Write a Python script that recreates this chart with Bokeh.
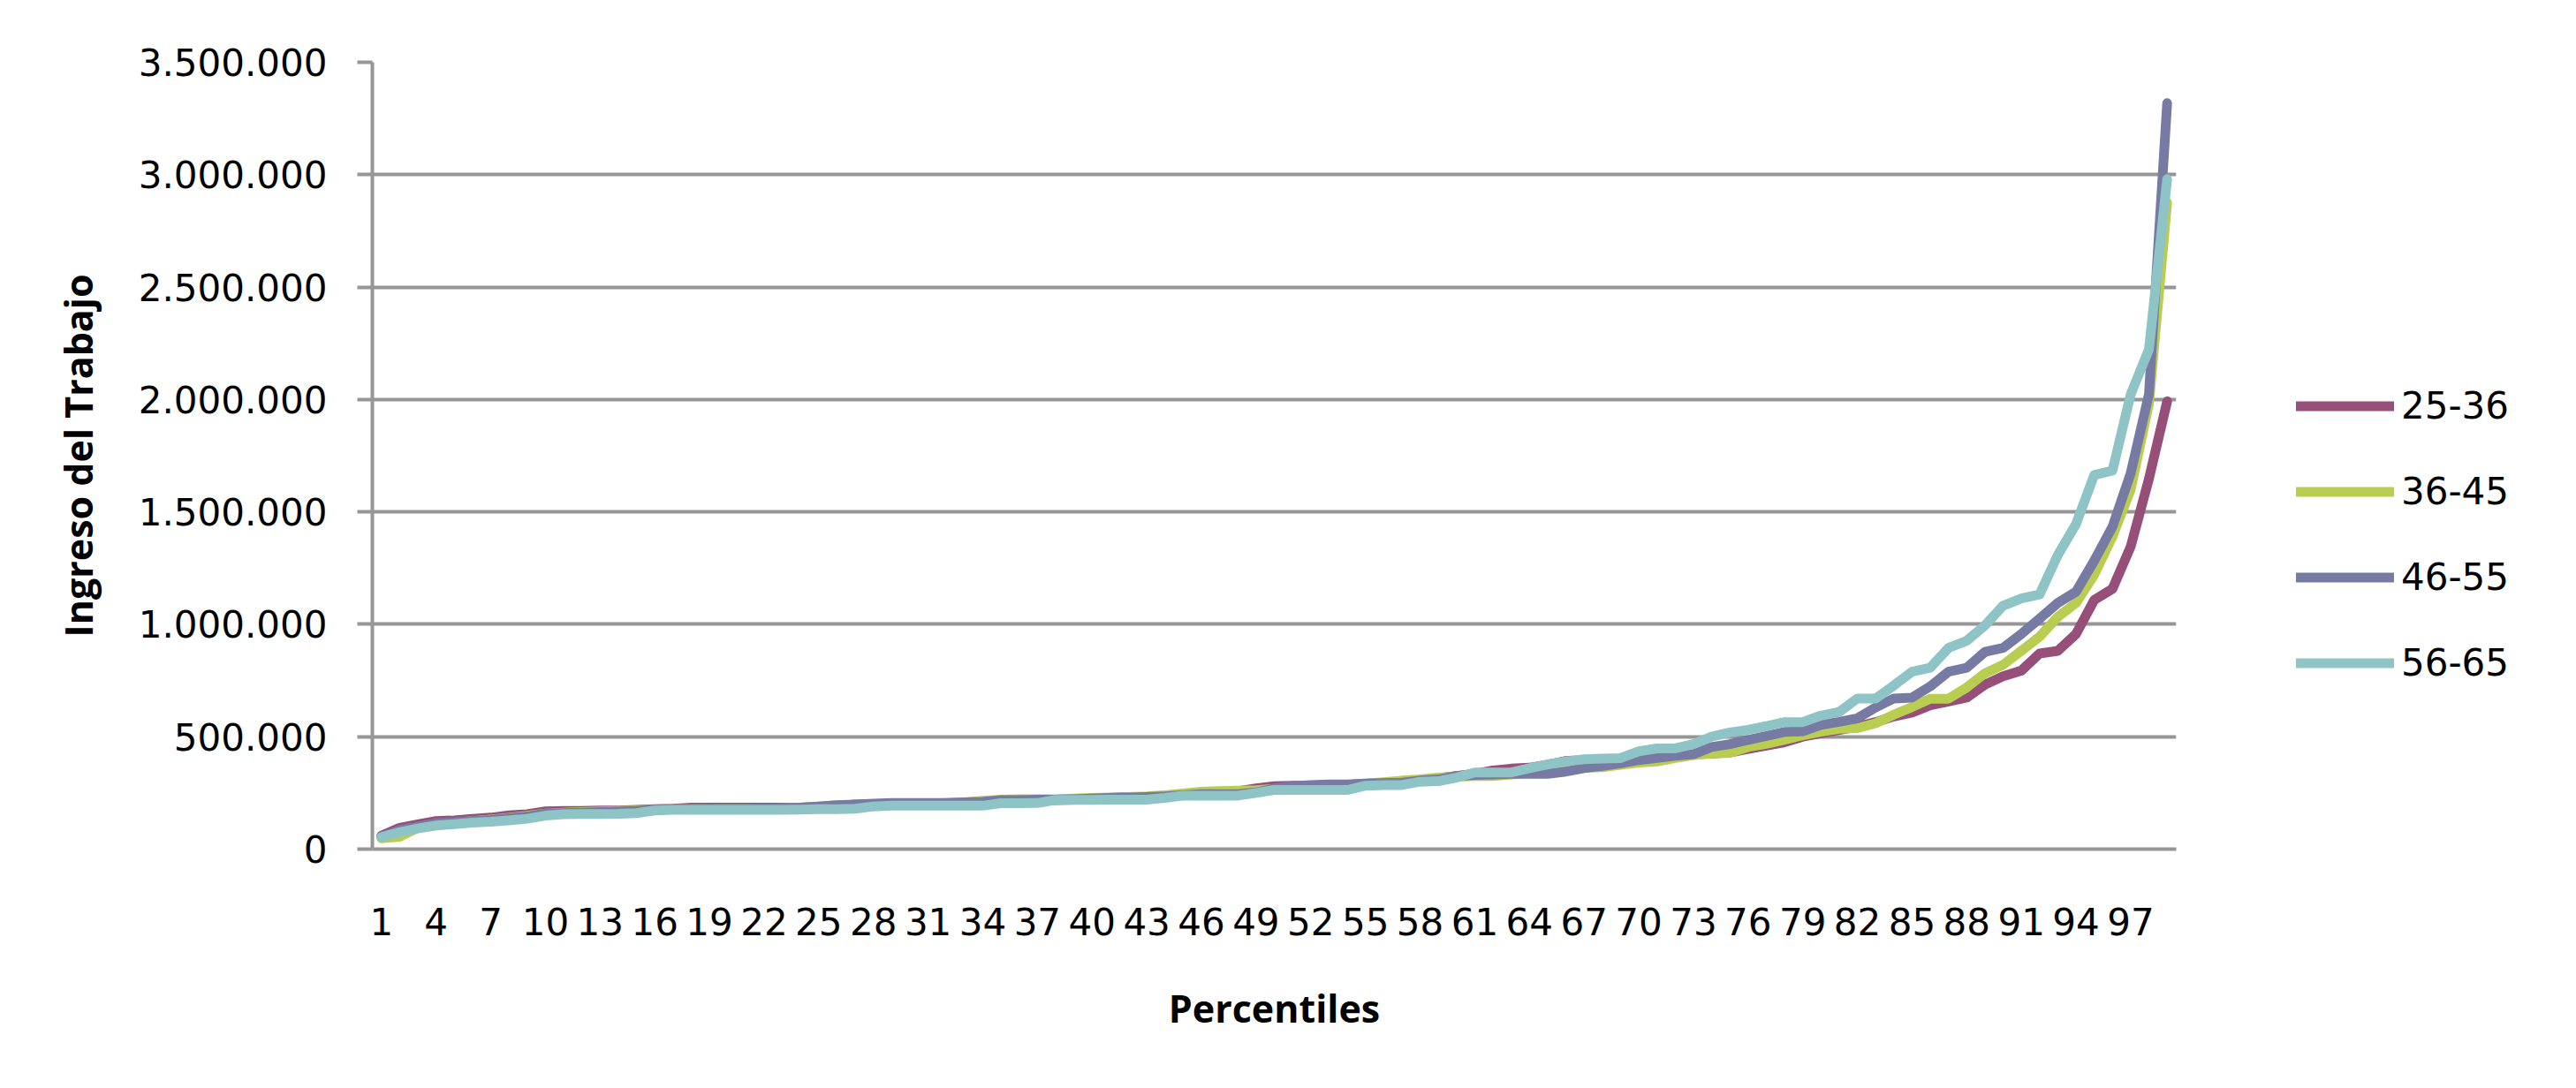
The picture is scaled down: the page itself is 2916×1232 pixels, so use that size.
from bokeh.plotting import figure
from bokeh.models import Range1d, FixedTicker, Legend, LegendItem
from bokeh.embed import file_html
from bokeh.resources import INLINE

# ---- data ----
percentiles = list(range(1, 100))

s_25_36 = [60000, 95000, 110000, 125000, 128000, 135000, 140000, 150000, 155000, 168000,
           170000, 170000, 172000, 172000, 175000, 178000, 180000, 185000, 185000, 185000,
           185000, 185000, 185000, 185000, 188000, 192000, 198000, 200000, 200000, 200000,
           200000, 202000, 205000, 210000, 212000, 215000, 215000, 218000, 220000, 225000,
           228000, 230000, 232000, 238000, 242000, 248000, 252000, 258000, 270000, 280000,
           282000, 282000, 284000, 286000, 290000, 295000, 300000, 305000, 315000, 325000,
           335000, 350000, 358000, 362000, 375000, 392000, 396000, 396000, 400000, 405000,
           410000, 418000, 422000, 425000, 430000, 445000, 460000, 475000, 500000, 515000,
           530000, 545000, 565000, 590000, 607000, 640000, 657000, 674000, 732000, 769000,
           794000, 870000, 882000, 957000, 1108000, 1158000, 1346000, 1647000, 1992000]

s_36_45 = [48000, 55000, 95000, 110000, 118000, 125000, 132000, 140000, 148000, 158000,
           162000, 165000, 168000, 170000, 172000, 175000, 178000, 178000, 178000, 180000,
           180000, 180000, 182000, 185000, 190000, 195000, 195000, 195000, 198000, 200000,
           202000, 205000, 208000, 215000, 220000, 222000, 222000, 222000, 225000, 228000,
           230000, 232000, 235000, 240000, 248000, 255000, 258000, 260000, 262000, 268000,
           272000, 275000, 280000, 285000, 292000, 298000, 305000, 310000, 318000, 322000,
           325000, 325000, 332000, 340000, 350000, 358000, 362000, 364000, 375000, 385000,
           390000, 405000, 418000, 425000, 428000, 454000, 468000, 487000, 506000, 522000,
           535000, 538000, 560000, 598000, 632000, 669000, 669000, 719000, 782000, 820000,
           882000, 945000, 1033000, 1095000, 1221000, 1390000, 1600000, 1980000, 2875000]

s_46_55 = [55000, 85000, 100000, 115000, 120000, 125000, 130000, 138000, 145000, 158000,
           160000, 162000, 165000, 167000, 170000, 175000, 178000, 178000, 180000, 180000,
           180000, 182000, 182000, 185000, 190000, 195000, 198000, 202000, 205000, 205000,
           205000, 205000, 208000, 210000, 218000, 218000, 220000, 220000, 222000, 225000,
           228000, 230000, 232000, 235000, 240000, 245000, 245000, 245000, 252000, 270000,
           280000, 285000, 288000, 288000, 292000, 294000, 296000, 305000, 310000, 325000,
           330000, 332000, 335000, 336000, 335000, 345000, 360000, 370000, 382000, 396000,
           405000, 415000, 422000, 454000, 467000, 486000, 503000, 521000, 524000, 553000,
           566000, 582000, 630000, 670000, 674000, 724000, 789000, 807000, 877000, 895000,
           957000, 1025000, 1095000, 1145000, 1283000, 1434000, 1672000, 2023000, 3318000]

s_56_65 = [54000, 75000, 92000, 105000, 111000, 118000, 122000, 128000, 135000, 149000,
           155000, 156000, 156000, 157000, 160000, 172000, 175000, 175000, 175000, 175000,
           175000, 175000, 175000, 176000, 178000, 178000, 180000, 190000, 193000, 193000,
           193000, 193000, 193000, 193000, 204000, 204000, 205000, 219000, 219000, 219000,
           220000, 220000, 220000, 228000, 238000, 238000, 238000, 238000, 250000, 263000,
           263000, 263000, 263000, 263000, 282000, 285000, 285000, 300000, 302000, 318000,
           341000, 341000, 341000, 360000, 377000, 390000, 400000, 403000, 405000, 435000,
           448000, 448000, 467000, 500000, 519000, 531000, 547000, 565000, 565000, 594000,
           610000, 670000, 670000, 728000, 789000, 807000, 895000, 927000, 995000, 1083000,
           1115000, 1133000, 1308000, 1446000, 1664000, 1684000, 2023000, 2223000, 2980000]

series_names = ["25-36", "36-45", "46-55", "56-65"]
series_values = [s_25_36, s_36_45, s_46_55, s_56_65]
series_colors = ["#954F78", "#B9CD50", "#777BA3", "#8FC4C6"]

x_ticks = list(range(1, 100, 3))
x_tick_labels = [str(t) for t in x_ticks]
y_ticks = [0, 500000, 1000000, 1500000, 2000000, 2500000, 3000000, 3500000]
y_tick_labels = ["0", "500.000", "1.000.000", "1.500.000", "2.000.000",
                 "2.500.000", "3.000.000", "3.500.000"]

x_title = "Percentiles"
y_title = "Ingreso del Trabajo"

# ---- figure ----
GRID = "#969696"
TICK_FONT = "DejaVu Sans"

p = figure(frame_width=2042, frame_height=891,
           min_border_left=421, min_border_right=445,
           min_border_top=70, min_border_bottom=262,
           x_range=Range1d(0.5, 99.5), y_range=Range1d(0, 3500000),
           output_backend="svg", toolbar_location=None, tools="")
p.background_fill_color = "white"
p.border_fill_color = "white"
p.outline_line_color = None

p.xgrid.visible = False
p.ygrid.grid_line_color = GRID
p.ygrid.grid_line_width = 4
p.ygrid.ticker = FixedTicker(ticks=y_ticks)

# x axis
p.xaxis.ticker = FixedTicker(ticks=x_ticks)
p.xaxis.major_label_overrides = dict(zip(x_ticks, x_tick_labels))
p.xaxis.axis_line_color = GRID
p.xaxis.axis_line_width = 4
p.xaxis.major_tick_out = 0
p.xaxis.major_tick_in = 0
p.xaxis.minor_tick_line_color = None
p.xaxis.major_label_standoff = 66
p.xaxis.major_label_text_font = TICK_FONT
p.xaxis.major_label_text_font_size = "42px"
p.xaxis.major_label_text_color = "black"
p.xaxis.axis_label = x_title
p.xaxis.axis_label_standoff = 50
p.xaxis.axis_label_text_font = "Open Sans"
p.xaxis.axis_label_text_font_style = "bold"
p.xaxis.axis_label_text_font_size = "43px"
p.xaxis.axis_label_text_color = "black"

# y axis
p.yaxis.ticker = FixedTicker(ticks=y_ticks)
p.yaxis.major_label_overrides = dict(zip(y_ticks, y_tick_labels))
p.yaxis.axis_line_color = GRID
p.yaxis.axis_line_width = 4
p.yaxis.major_tick_line_color = GRID
p.yaxis.major_tick_line_width = 4
p.yaxis.major_tick_out = 17
p.yaxis.major_tick_in = 0
p.yaxis.minor_tick_line_color = None
p.yaxis.major_label_standoff = 34
p.yaxis.major_label_text_font = TICK_FONT
p.yaxis.major_label_text_font_size = "42px"
p.yaxis.major_label_text_color = "black"
p.yaxis.axis_label = y_title
p.yaxis.axis_label_standoff = 36
p.yaxis.axis_label_text_font = "Open Sans"
p.yaxis.axis_label_text_font_style = "bold"
p.yaxis.axis_label_text_font_size = "43px"
p.yaxis.axis_label_text_color = "black"

items = []
for name, vals, col in zip(series_names, series_values, series_colors):
    r = p.line(percentiles, vals, line_color=col, line_width=11,
               line_cap="round", line_join="round")
    items.append(LegendItem(label=name, renderers=[r]))

legend = Legend(items=items, location=(136, 162), orientation="vertical",
                glyph_width=111, glyph_height=97, label_height=97,
                spacing=0, padding=0, margin=0, label_standoff=8,
                border_line_color=None, background_fill_alpha=0,
                label_text_font=TICK_FONT, label_text_font_size="42px",
                label_text_color="black")
p.add_layout(legend, "right")

open("out.html", "w").write(file_html(p, INLINE))
